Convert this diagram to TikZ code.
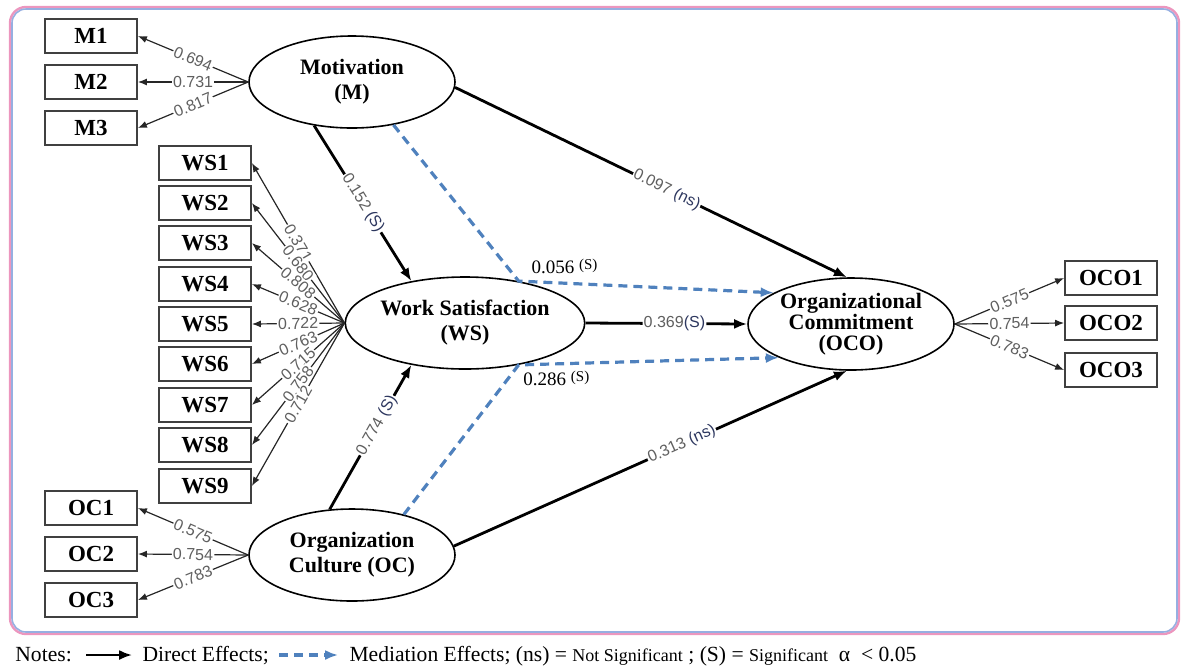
\documentclass[tikz,border=0pt]{standalone}
\usepackage{fontspec}
\setmainfont{Liberation Serif}
\newfontfamily\arialfont{Liberation Sans}
\usepackage{tikz}
\usetikzlibrary{positioning, shapes.geometric, arrows.meta}
\definecolor{medblue}{RGB}{79,129,189}
\definecolor{loadgray}{RGB}{95,95,95}
\definecolor{signavy}{RGB}{45,55,95}
\definecolor{framepink}{RGB}{236,150,190}
\definecolor{frameblue}{RGB}{150,175,225}

\begin{document}
\begin{tikzpicture}[>={Latex[length=6.5pt,width=5pt]}, x=0.5pt, y=-0.5pt,
  latent/.style={ellipse, draw, line width=0.8pt, fill=white, minimum width=103pt, minimum height=46pt, inner sep=0pt, align=center, font=\fontsize{11}{12.5}\selectfont\bfseries},
  item/.style={rectangle, draw=black!75, line width=0.9pt, fill=white, minimum width=46pt, minimum height=17pt, inner sep=0pt, font=\fontsize{11.5}{12}\selectfont\bfseries},
  load/.style={-{Latex[length=4.5pt,width=3.5pt]}, line width=0.6pt, black!85},
  lab/.style={fill=white, inner sep=0.6pt, sloped, font=\arialfont\fontsize{8}{8}\selectfont, text=loadgray},
  medlab/.style={inner sep=1pt, text=black, font=\fontsize{9.5}{10}\selectfont},
  direct/.style={->, line width=1.4pt},
  mediate/.style={->, line width=1.6pt, medblue, dash pattern=on 4.5pt off 3pt},
  legend/.style={inner sep=0pt, font=\fontsize{10.8}{12}\selectfont}]
  \useasboundingbox (0,0) rectangle (1181,665);
  % frame
  \draw [framepink, line width=1.2pt, rounded corners=8pt] (10,7) rectangle (1179,634);
  \draw [frameblue, line width=0.8pt, rounded corners=7pt] (12,9) rectangle (1177,632);
  % latent variables
  \node (M) at (352,82) [latent] {Motivation\\(M)};
  \node (WS) at (465,323) [latent] {Work Satisfaction\\(WS)};
  \node (OC) at (352,555) [latent] {Organization\\Culture (OC)};
  \node (OCO) at (851,324) [latent, font=\fontsize{11}{10.5}\selectfont\bfseries] {Organizational\\Commitment\\(OCO)};
  % indicators
  \node (M1) at (91,36) [item] {M1};
  \node (M2) at (91,82) [item] {M2};
  \node (M3) at (91,128) [item] {M3};
  \node (WS1) at (205,163) [item] {WS1};
  \node (WS2) at (205,203) [item] {WS2};
  \node (WS3) at (205,243) [item] {WS3};
  \node (WS4) at (205,284) [item] {WS4};
  \node (WS5) at (205,324) [item] {WS5};
  \node (WS6) at (205,364) [item] {WS6};
  \node (WS7) at (205,405) [item] {WS7};
  \node (WS8) at (205,445) [item] {WS8};
  \node (WS9) at (205,486) [item] {WS9};
  \node (OC1) at (91,508) [item] {OC1};
  \node (OC2) at (91,554) [item] {OC2};
  \node (OC3) at (91,600) [item] {OC3};
  \node (OCO1) at (1111,278) [item] {OCO1};
  \node (OCO2) at (1111,323) [item] {OCO2};
  \node (OCO3) at (1111,370) [item] {OCO3};
  % loadings
  \draw [load] (M.west) -- node [lab] {0.694} (M1.east);
  \draw [load] (M.west) -- node [lab] {0.731} (M2.east);
  \draw [load] (M.west) -- node [lab] {0.817} (M3.east);
  \draw [load] (WS.west) -- node [lab] {0.371} (WS1.east);
  \draw [load] (WS.west) -- node [lab] {0.680} (WS2.east);
  \draw [load] (WS.west) -- node [lab] {0.808} (WS3.east);
  \draw [load] (WS.west) -- node [lab] {0.628} (WS4.east);
  \draw [load] (WS.west) -- node [lab] {0.722} (WS5.east);
  \draw [load] (WS.west) -- node [lab] {0.763} (WS6.east);
  \draw [load] (WS.west) -- node [lab] {0.715} (WS7.east);
  \draw [load] (WS.west) -- node [lab] {0.758} (WS8.east);
  \draw [load] (WS.west) -- node [lab] {0.712} (WS9.east);
  \draw [load] (OC.west) -- node [lab] {0.575} (OC1.east);
  \draw [load] (OC.west) -- node [lab] {0.754} (OC2.east);
  \draw [load] (OC.west) -- node [lab] {0.783} (OC3.east);
  \draw [load] (OCO.east) -- node [lab] {0.575} (OCO1.west);
  \draw [load] (OCO.east) -- node [lab] {0.754} (OCO2.west);
  \draw [load] (OCO.east) -- node [lab] {0.783} (OCO3.west);
  % structural paths
  \draw [direct] (M.-3) -- node [lab, pos=0.54] {0.097 \textcolor{signavy}{(ns)}} (OCO.95);
  \draw [direct] (M.-131) -- node [lab] {0.152 \textcolor{signavy}{(S)}} (WS.142);
  \draw [direct] (WS.east) -- node [lab, pos=0.55] {0.369\textcolor{signavy}{(S)}} (OCO.west);
  \draw [direct] (OC.116) -- node [lab, pos=0.58] {0.774 \textcolor{signavy}{(S)}} (WS.-142);
  \draw [direct] (OC.5) -- node [lab, pos=0.58] {0.313 \textcolor{signavy}{(ns)}} (OCO.-95);
  \draw [mediate] (M.-46) -- (WS.38) -- node [medlab, pos=0.18, above=3pt] {0.056 \raisebox{2pt}{\fontsize{7.5}{8}\selectfont(S)}} (OCO.158);
  \draw [mediate] (OC.38) -- (WS.-38) -- node [medlab, pos=0.145, below=2pt] {0.286 \raisebox{2pt}{\fontsize{7.5}{8}\selectfont(S)}} (OCO.-155);
  % notes
  \node (notes) at (15,655) [legend, anchor=west] {Notes:};
  \node (effects) [legend, base right=35pt of notes] {Direct Effects;};
  \node (mediation) [legend, base right=40pt of effects] {Mediation Effects; (ns) = {\fontsize{9}{10}\selectfont Not Significant} ; (S) = {\fontsize{9}{10}\selectfont Significant}\ \ α\ \ < 0.05};
  \draw [direct] ([xshift=7pt]notes.east) -- ([xshift=-5pt]effects.west |- notes.east);
  \draw [mediate] ([xshift=5pt]effects.east |- notes.east) -- ([xshift=-5.5pt]mediation.west |- notes.east);
\end{tikzpicture}
\end{document}
